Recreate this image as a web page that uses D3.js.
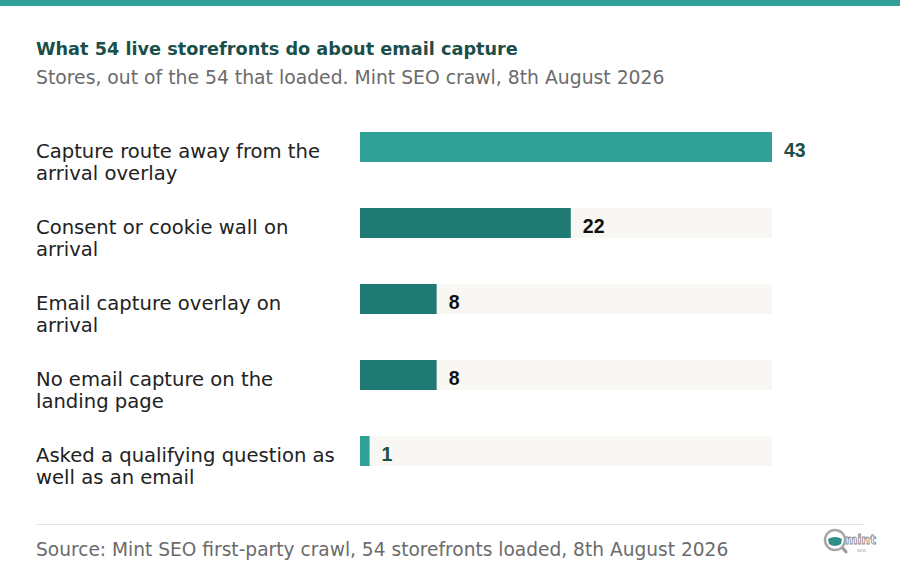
<!DOCTYPE html>
<html><head><meta charset="utf-8">
<script src="https://cdn.jsdelivr.net/npm/d3@7/dist/d3.min.js"></script>
<style>body{margin:0;background:#fff}svg{display:block}</style>
</head><body>
<svg id="c" width="900" height="576"></svg>
<script>
const categories = [
  ["Capture route away from the", "arrival overlay"],
  ["Consent or cookie wall on", "arrival"],
  ["Email capture overlay on", "arrival"],
  ["No email capture on the", "landing page"],
  ["Asked a qualifying question as", "well as an email"]
];
const values = [43, 22, 8, 8, 1];
const highlight = [true, false, false, false, true];
const title = "What 54 live storefronts do about email capture";
const subtitle = "Stores, out of the 54 that loaded. Mint SEO crawl, 8th August 2026";
const source = "Source: Mint SEO first-party crawl, 54 storefronts loaded, 8th August 2026";

const svg = d3.select("#c");
const FONT = "'DejaVu Sans', sans-serif";
const W = 900;

svg.append("rect").attr("x",0).attr("y",0).attr("width",W).attr("height",6).attr("fill","#2fa098");

svg.append("text").attr("x",36).attr("y",55).text(title)
  .attr("font-family",FONT).attr("font-weight","bold").attr("font-size",17.7).attr("fill","#1b4f4a");
svg.append("text").attr("x",36).attr("y",84).text(subtitle)
  .attr("font-family",FONT).attr("font-size",18.8).attr("fill","#6b6b6b");

const x = d3.scaleLinear().domain([0, d3.max(values)]).range([360, 772]);
const y = d3.scaleBand().domain(d3.range(values.length)).range([109, 489]).paddingInner(46/76).paddingOuter(23/76);

const g = svg.append("g");
const rows = g.selectAll("g.row").data(values).join("g").attr("class","row");
rows.append("rect").attr("x",x(0)).attr("y",(d,i)=>y(i)).attr("width",x.range()[1]-x(0)).attr("height",y.bandwidth()).attr("fill","#f8f7f3");
rows.append("rect").attr("x",x(0)).attr("y",(d,i)=>y(i)).attr("width",d=>x(d)-x(0)).attr("height",y.bandwidth())
  .attr("fill",(d,i)=>highlight[i] ? "#31a198" : "#1f7a74");
rows.append("text").attr("x",d=>x(d)+12).attr("y",(d,i)=>y(i)+y.bandwidth()/2+9.5).text(d=>d)
  .attr("font-family","'Liberation Sans', Arial, sans-serif").attr("font-weight","bold").attr("font-size",19.5)
  .attr("fill",(d,i)=>highlight[i] ? "#1b4f4a" : "#111");
rows.each(function(d,i){
  const t = d3.select(this).append("text").attr("font-family",FONT).attr("font-size",19.6).attr("fill","#222");
  categories[i].forEach((line,j)=>{
    t.append("tspan").attr("x",36).attr("y",y(i)+y.bandwidth()/2+11+j*22).text(line);
  });
});

svg.append("line").attr("x1",36).attr("x2",864).attr("y1",524.5).attr("y2",524.5).attr("stroke","#e8e4da").attr("stroke-width",1);
svg.append("text").attr("x",36).attr("y",556).text(source)
  .attr("font-family",FONT).attr("font-size",18.6).attr("fill","#6b6b6b");

// logo
const lg = svg.append("g").attr("transform","translate(835,540)");
lg.append("line").attr("x1",6).attr("y1",6).attr("x2",11).attr("y2",12).attr("stroke","#9a9a9a").attr("stroke-width",3).attr("stroke-linecap","round");
lg.append("circle").attr("r",10).attr("fill","#fff").attr("stroke","#a8a8a8").attr("stroke-width",2.5);
lg.append("path").attr("d","M-7,-1 Q0,-5 7,-1 L6,4 Q0,8 -6,4 Z").attr("fill","#2f8f86");
lg.append("text").attr("x",10).attr("y",4).text("mint").attr("font-family",FONT).attr("font-weight","bold").attr("font-size",12).attr("fill","#fff").attr("stroke","#8a8a8a").attr("stroke-width",0.8);
lg.append("text").attr("x",22).attr("y",12).text("seo").attr("font-family",FONT).attr("font-size",5).attr("fill","#999");
</script>
</body></html>
